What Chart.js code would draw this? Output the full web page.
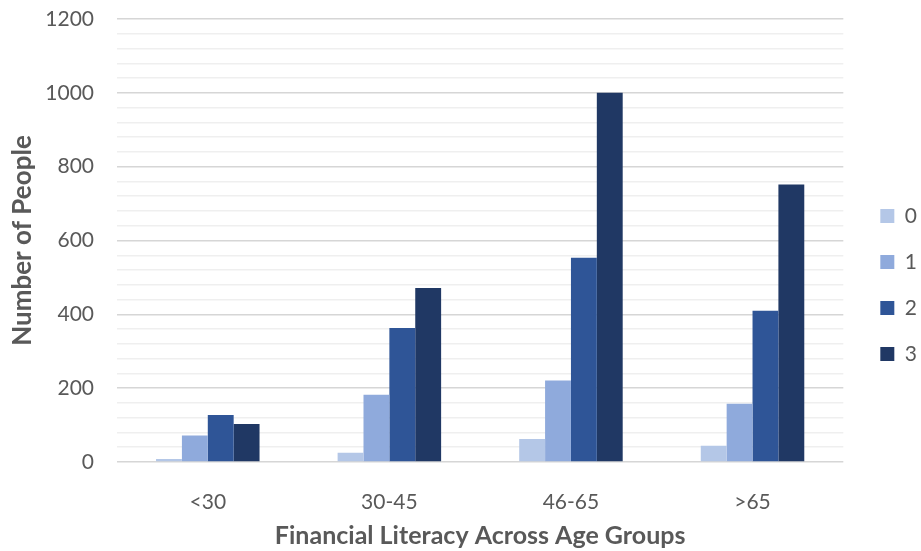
<!DOCTYPE html>
<html>
<head>
<meta charset="utf-8">
<script src="https://cdn.jsdelivr.net/npm/chart.js@4/dist/chart.umd.min.js"></script>
<style>
  html, body { margin: 0; padding: 0; background: #fff; }
  #wrap { width: 921px; height: 551px; position: relative; }
</style>
</head>
<body>
<div id="wrap"><canvas id="c"></canvas></div>
<script>
// Age groups along the x axis
const ageGroups = ['<30', '30-45', '46-65', '>65'];
// Financial literacy score (0-3) series labels
const scoreLabels = ['0', '1', '2', '3'];
// Number of people per score, by age group
const score0 = [8, 25, 62, 44];
const score1 = [72, 182, 221, 158];
const score2 = [127, 363, 553, 410];
const score3 = [103, 471, 1000, 752];

const seriesValues = [score0, score1, score2, score3];
const seriesColors = ['#b4c7e7', '#8faadc', '#2f5597', '#203864'];
const textColor = '#595959';
const fontFamily = 'Lato, "Open Sans", sans-serif';

// Nudges the legend a little further away from the plot area
const legendOffset = {
  id: 'legendOffset',
  afterLayout(chart) {
    const lg = chart.legend;
    if (lg) { lg.left += 12; lg.right += 12; }
  }
};

new Chart(document.getElementById('c'), {
  type: 'bar',
  data: {
    labels: ageGroups,
    datasets: scoreLabels.map((lab, i) => ({
      label: lab,
      data: seriesValues[i],
      backgroundColor: seriesColors[i],
      borderWidth: 0,
      categoryPercentage: 0.57,
      barPercentage: 1.0
    }))
  },
  plugins: [legendOffset],
  options: {
    responsive: true,
    maintainAspectRatio: false,
    animation: false,
    layout: { padding: { top: 19, right: 6, left: 0, bottom: 0 } },
    plugins: {
      tooltip: { enabled: false },
      legend: {
        position: 'right',
        align: 'center',
        labels: {
          boxWidth: 14,
          boxHeight: 14,
          padding: 25,
          color: textColor,
          font: { family: fontFamily, size: 21 }
        }
      }
    },
    scales: {
      x: {
        grid: { display: false, drawTicks: false },
        border: { display: false },
        ticks: { color: textColor, padding: 28, font: { family: fontFamily, size: 21 } },
        title: {
          display: true,
          text: 'Financial Literacy Across Age Groups',
          color: textColor,
          padding: { top: 0, bottom: 0 },
          font: { family: fontFamily, size: 25, weight: 'bold' }
        },
        afterFit: s => { s.height = 89; }
      },
      y: {
        min: 0,
        max: 1200,
        border: { display: false },
        grid: {
          drawTicks: false,
          color: ctx => (ctx.tick && ctx.tick.value % 200 === 0) ? '#d6d6d6' : '#efefef',
          lineWidth: 1.5
        },
        ticks: {
          stepSize: 40,
          autoSkip: false,
          padding: 23,
          color: textColor,
          font: { family: fontFamily, size: 21 },
          callback: v => (v % 200 === 0 ? String(v) : '')
        },
        title: {
          display: true,
          text: 'Number of People',
          color: textColor,
          padding: { top: 7, bottom: 0 },
          font: { family: fontFamily, size: 26, weight: 'bold' }
        },
        afterFit: s => { s.width = 117; s.paddingTop = 0; s.paddingBottom = 0; }
      }
    }
  }
});
</script>
</body>
</html>
